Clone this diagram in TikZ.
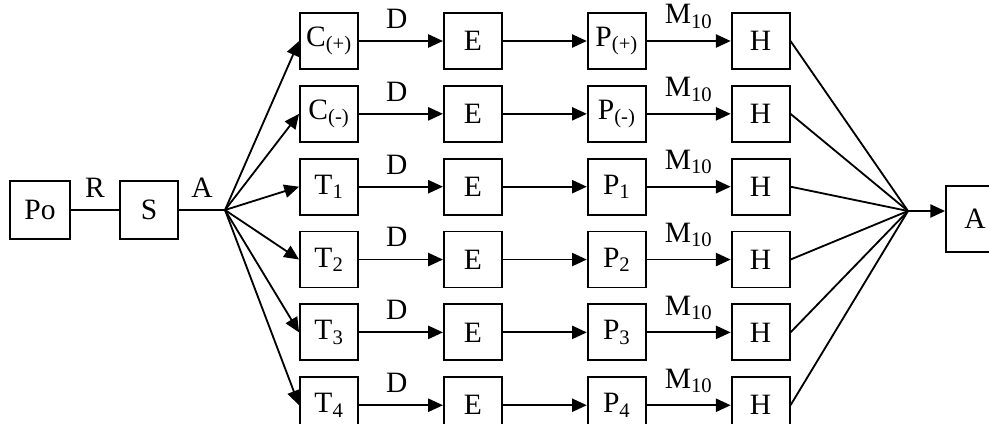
\documentclass[tikz,border=0pt]{standalone}
\usepackage{fontspec}
\setmainfont{Liberation Serif}
\usetikzlibrary{arrows.meta, positioning}

\begin{document}
\begin{tikzpicture}[
    x=0.025cm, y=-0.025cm,
    node distance=0.375cm and 2.1cm,
    box/.style={draw, line width=1.3pt, minimum width=1.45cm, minimum height=1.4cm, inner sep=1pt, font=\fontsize{21}{24}\selectfont},
    lbl/.style={font=\fontsize{21}{24}\selectfont, inner sep=2pt},
    flow/.style={line width=1.3pt, -{Triangle[length=0.37cm, width=0.33cm]}},
    link/.style={line width=1.3pt}
]

\useasboundingbox (0,0) rectangle (989,423);

% Start
\node[box, minimum width=1.5cm, minimum height=1.45cm] (po) at (40,210) {Po};
\node[box, minimum height=1.45cm] (s) at (149,210) {S};
\coordinate (jl) at (225,210);

\draw[link] (po) -- node[lbl, above=2.2mm] {R} (s);
\draw[link] (s.east) -- node[lbl, above=2.2mm] {A} (jl);

% First column
\node[box] (cp) at (329,41) {C\textsubscript{(+)}};
\node[box, below=of cp] (cm) {C\textsubscript{(-)}};
\node[box, below=of cm] (t1) {T\textsubscript{1}};
\node[box, below=of t1] (t2) {T\textsubscript{2}};
\node[box, below=of t2] (t3) {T\textsubscript{3}};
\node[box, below=of t3] (t4) {T\textsubscript{4}};

% E column
\node[box, right=of cp] (ecp) {E};
\node[box, right=of cm] (ecm) {E};
\node[box, right=of t1] (et1) {E};
\node[box, right=of t2] (et2) {E};
\node[box, right=of t3] (et3) {E};
\node[box, right=of t4] (et4) {E};

% P column
\node[box, right=of ecp] (pcp) {P\textsubscript{(+)}};
\node[box, right=of ecm] (pcm) {P\textsubscript{(-)}};
\node[box, right=of et1] (pt1) {P\textsubscript{1}};
\node[box, right=of et2] (pt2) {P\textsubscript{2}};
\node[box, right=of et3] (pt3) {P\textsubscript{3}};
\node[box, right=of et4] (pt4) {P\textsubscript{4}};

% H column
\node[box, right=of pcp] (hcp) {H};
\node[box, right=of pcm] (hcm) {H};
\node[box, right=of pt1] (ht1) {H};
\node[box, right=of pt2] (ht2) {H};
\node[box, right=of pt3] (ht3) {H};
\node[box, right=of pt4] (ht4) {H};

% End
\coordinate (jr) at (908,211);
\node[box, minimum height=1.65cm] (fin) at (975,219) {A};

% Fan out
\draw[flow] (jl) -- (cp.west);
\draw[flow] (jl) -- (cm.west);
\draw[flow] (jl) -- (t1.west);
\draw[flow] (jl) -- (t2.west);
\draw[flow] (jl) -- (t3.west);
\draw[flow] (jl) -- (t4.west);

% Rows
\draw[flow] (cp) -- node[lbl, above=2.2mm, pos=0.45] {D} (ecp);
\draw[flow] (cm) -- node[lbl, above=2.2mm, pos=0.45] {D} (ecm);
\draw[flow] (t1) -- node[lbl, above=2.2mm, pos=0.45] {D} (et1);
\draw[flow] (t2) -- node[lbl, above=2.2mm, pos=0.45] {D} (et2);
\draw[flow] (t3) -- node[lbl, above=2.2mm, pos=0.45] {D} (et3);
\draw[flow] (t4) -- node[lbl, above=2.2mm, pos=0.45] {D} (et4);

\draw[flow] (ecp) -- (pcp);
\draw[flow] (ecm) -- (pcm);
\draw[flow] (et1) -- (pt1);
\draw[flow] (et2) -- (pt2);
\draw[flow] (et3) -- (pt3);
\draw[flow] (et4) -- (pt4);

\draw[flow] (pcp) -- node[lbl, above=2.2mm] {M\textsubscript{10}} (hcp);
\draw[flow] (pcm) -- node[lbl, above=2.2mm] {M\textsubscript{10}} (hcm);
\draw[flow] (pt1) -- node[lbl, above=2.2mm] {M\textsubscript{10}} (ht1);
\draw[flow] (pt2) -- node[lbl, above=2.2mm] {M\textsubscript{10}} (ht2);
\draw[flow] (pt3) -- node[lbl, above=2.2mm] {M\textsubscript{10}} (ht3);
\draw[flow] (pt4) -- node[lbl, above=2.2mm] {M\textsubscript{10}} (ht4);

% Fan in
\draw[link] (hcp.east) -- (jr);
\draw[link] (hcm.east) -- (jr);
\draw[link] (ht1.east) -- (jr);
\draw[link] (ht2.east) -- (jr);
\draw[link] (ht3.east) -- (jr);
\draw[link] (ht4.east) -- (jr);
\draw[flow] (jr) -- (jr -| fin.west);

\end{tikzpicture}
\end{document}
